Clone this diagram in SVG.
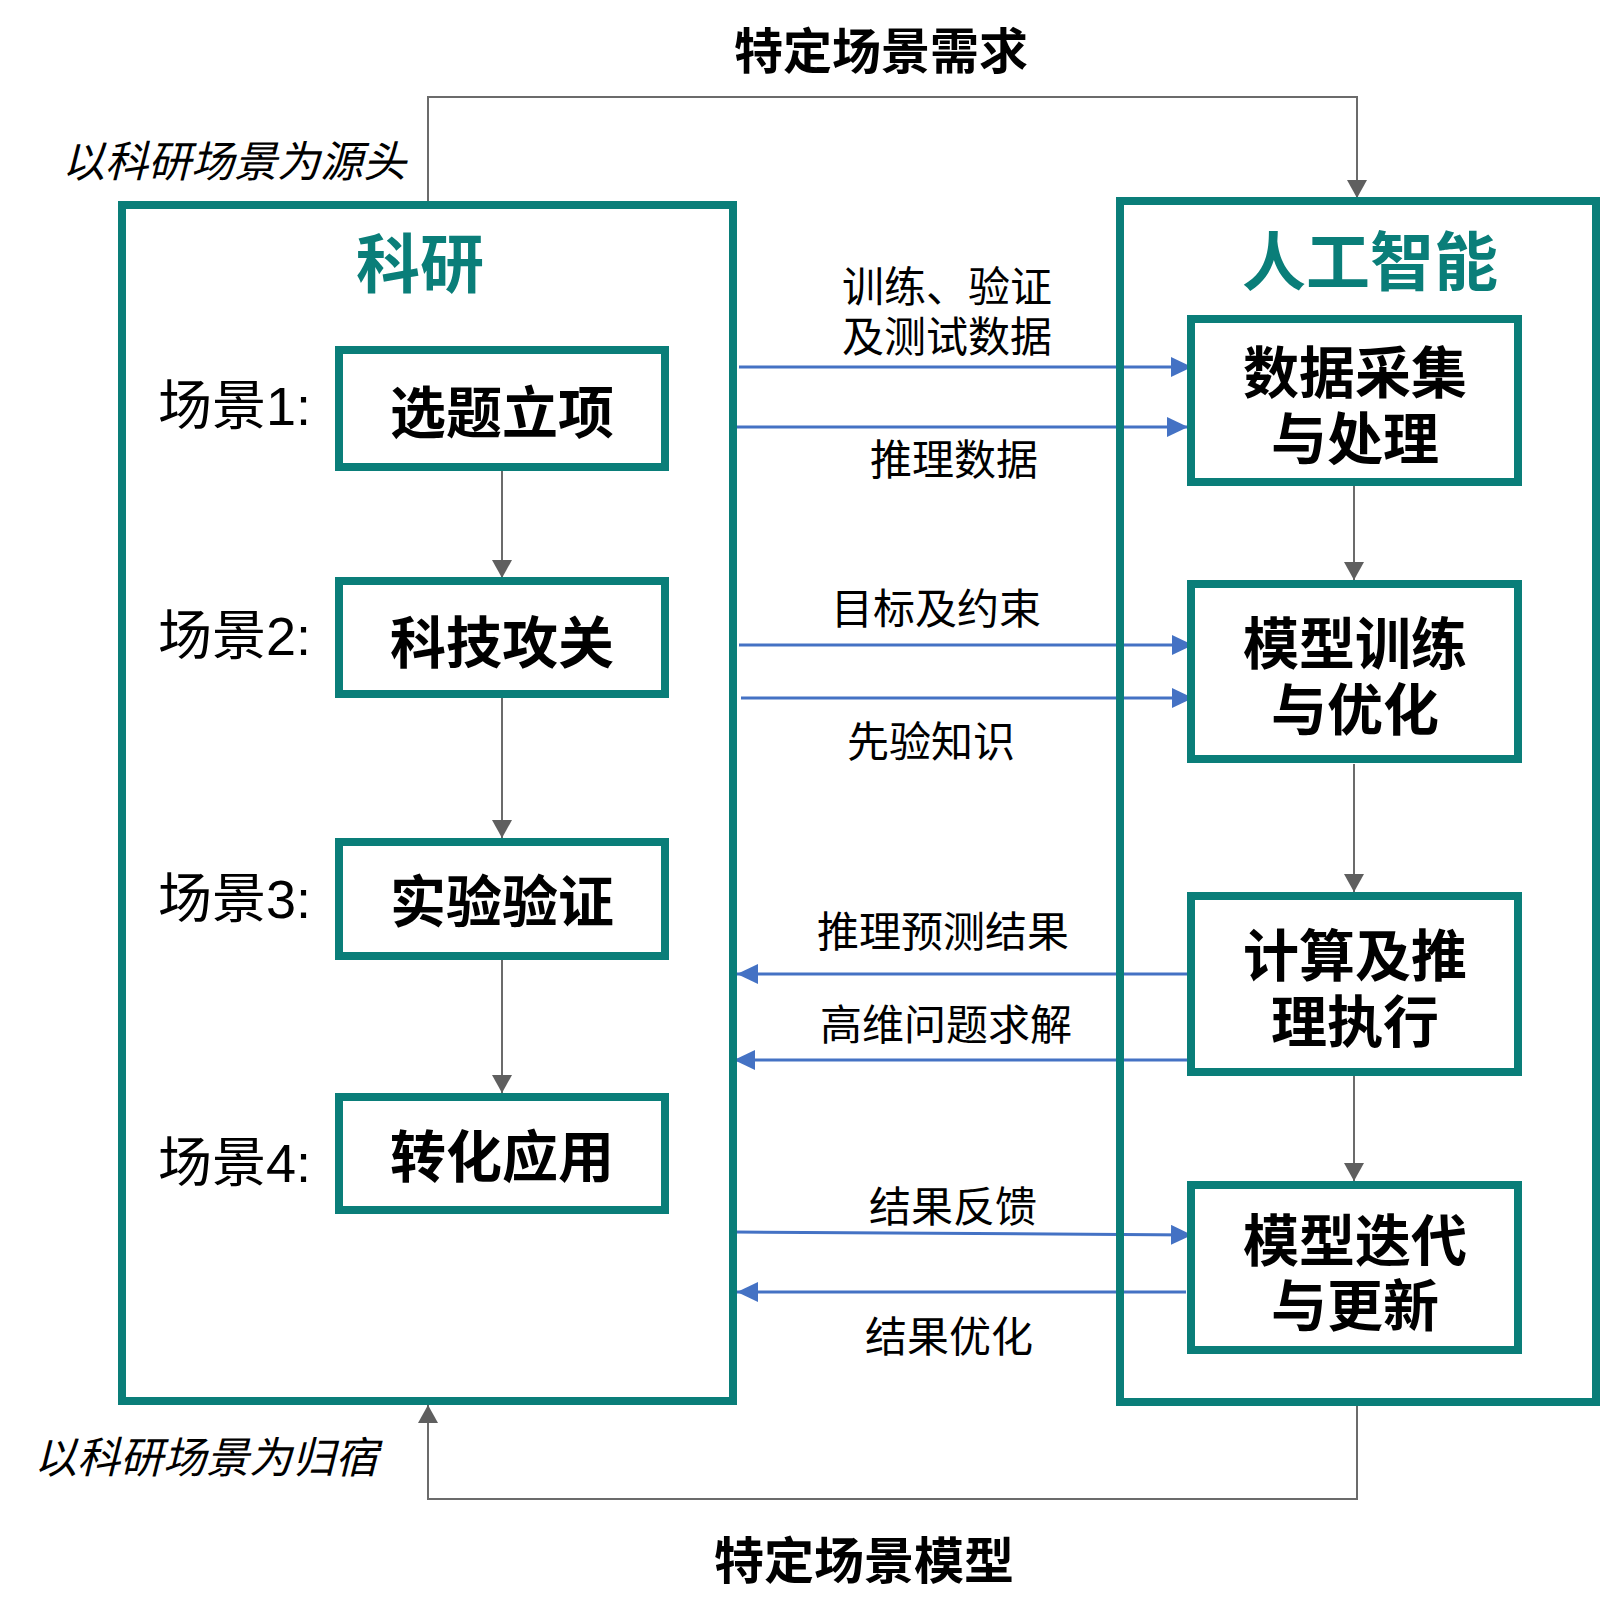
<svg xmlns="http://www.w3.org/2000/svg" width="1600" height="1616" viewBox="0 0 1600 1616">
<style>
text{font-family:"Liberation Sans","Noto Sans CJK SC",sans-serif;fill:#000;}
.outer{fill:none;stroke:#0a7e79;stroke-width:8;}
.box{fill:#fff;stroke:#0a7e79;stroke-width:8;}
.title{font-size:64px;font-weight:bold;fill:#0a7e79;text-anchor:middle;}
.head{font-size:49px;font-weight:bold;text-anchor:middle;}
.side{font-size:43px;font-style:italic;text-anchor:middle;}
.scene{font-size:54px;}
.node{font-size:56px;font-weight:bold;text-anchor:middle;}
.lbl{font-size:42px;text-anchor:middle;}
.gray{fill:none;stroke:#6b6b6b;stroke-width:2;}
.blue{fill:none;stroke:#4472c4;stroke-width:3;}
</style>
<defs>
<marker id="ag" markerUnits="userSpaceOnUse" markerWidth="20" markerHeight="22" refX="18" refY="10" orient="auto">
<path d="M0,0 L18,10 L0,20 Z" fill="#5f5f5f"/>
</marker>
<marker id="ab" markerUnits="userSpaceOnUse" markerWidth="24" markerHeight="22" refX="21" refY="10" orient="auto">
<path d="M0,0 L21,10 L0,20 Z" fill="#4472c4"/>
</marker>
</defs>
<rect width="1600" height="1616" fill="#fff"/>

<g id="connectors">
<path class="gray" d="M428,205 V97 H1357 V198" marker-end="url(#ag)"/>
<path class="gray" d="M1357,1402 V1499 H428 V1405" marker-end="url(#ag)"/>
<path class="gray" d="M502,471 V578" marker-end="url(#ag)"/>
<path class="gray" d="M502,698 V838" marker-end="url(#ag)"/>
<path class="gray" d="M502,960 V1093" marker-end="url(#ag)"/>
<path class="gray" d="M1354,486 V580" marker-end="url(#ag)"/>
<path class="gray" d="M1354,764 V892" marker-end="url(#ag)"/>
<path class="gray" d="M1354,1076 V1181" marker-end="url(#ag)"/>
<path class="blue" d="M739,367 H1192" marker-end="url(#ab)"/>
<path class="blue" d="M736,427 H1188" marker-end="url(#ab)"/>
<path class="blue" d="M739,645 H1193" marker-end="url(#ab)"/>
<path class="blue" d="M741,698 H1193" marker-end="url(#ab)"/>
<path class="blue" d="M1195,974 H737" marker-end="url(#ab)"/>
<path class="blue" d="M1190,1060 H734" marker-end="url(#ab)"/>
<path class="blue" d="M735,1232 L1192,1235" marker-end="url(#ab)"/>
<path class="blue" d="M1186,1292 H737" marker-end="url(#ab)"/>
</g>

<g id="labels">
<text class="head" x="881" y="69">特定场景需求</text>
<text class="head" x="864" y="1579" style="font-size:50px">特定场景模型</text>
<text class="side" x="234" y="177">以科研场景为源头</text>
<text class="side" x="206" y="1473">以科研场景为归宿</text>
<text class="lbl" x="947" y="302">训练、验证</text>
<text class="lbl" x="947" y="352">及测试数据</text>
<text class="lbl" x="954" y="475">推理数据</text>
<text class="lbl" x="936" y="624">目标及约束</text>
<text class="lbl" x="931" y="757">先验知识</text>
<text class="lbl" x="943" y="947">推理预测结果</text>
<text class="lbl" x="946" y="1040">高维问题求解</text>
<text class="lbl" x="953" y="1222">结果反馈</text>
<text class="lbl" x="949" y="1352">结果优化</text>
</g>

<g id="research">
<rect class="outer" x="122" y="205" width="611" height="1196"/>
<text class="title" x="420" y="287">科研</text>
</g>
<g id="ai">
<rect class="outer" x="1120" y="201" width="476" height="1201"/>
<text class="title" x="1370" y="285">人工智能</text>
</g>

<g id="scene1">
<text class="scene" x="158" y="425">场景1:</text>
<rect class="box" x="339" y="350" width="326" height="117"/>
<text class="node" x="502" y="433">选题立项</text>
</g>
<g id="scene2">
<text class="scene" x="158" y="655">场景2:</text>
<rect class="box" x="339" y="581" width="326" height="113"/>
<text class="node" x="502" y="663">科技攻关</text>
</g>
<g id="scene3">
<text class="scene" x="158" y="918">场景3:</text>
<rect class="box" x="339" y="842" width="326" height="114"/>
<text class="node" x="502" y="922">实验验证</text>
</g>
<g id="scene4">
<text class="scene" x="158" y="1182">场景4:</text>
<rect class="box" x="339" y="1097" width="326" height="113"/>
<text class="node" x="502" y="1177">转化应用</text>
</g>

<g id="data">
<rect class="box" x="1191" y="319" width="327" height="163"/>
<text class="node" x="1355" y="393">数据采集</text>
<text class="node" x="1355" y="459">与处理</text>
</g>
<g id="train">
<rect class="box" x="1191" y="584" width="327" height="175"/>
<text class="node" x="1355" y="664">模型训练</text>
<text class="node" x="1355" y="730">与优化</text>
</g>
<g id="infer">
<rect class="box" x="1191" y="896" width="327" height="176"/>
<text class="node" x="1355" y="976">计算及推</text>
<text class="node" x="1355" y="1042">理执行</text>
</g>
<g id="iterate">
<rect class="box" x="1191" y="1185" width="327" height="165"/>
<text class="node" x="1355" y="1261">模型迭代</text>
<text class="node" x="1355" y="1326">与更新</text>
</g>
</svg>
